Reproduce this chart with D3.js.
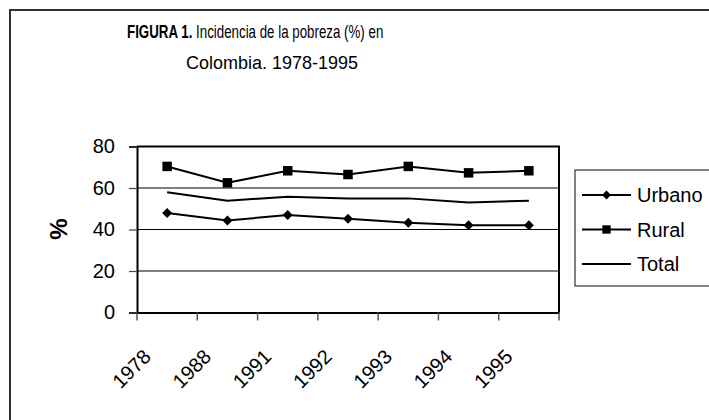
<!DOCTYPE html>
<html>
<head>
<meta charset="utf-8">
<script src="https://cdn.jsdelivr.net/npm/d3@7"></script>
<style>
  html, body { margin: 0; padding: 0; background: #fff; }
  svg { display: block; font-family: "Liberation Sans", Arial, sans-serif; }
</style>
</head>
<body>
<svg id="chart" width="709" height="420"></svg>
<script>
const categories = ["1978", "1988", "1991", "1992", "1993", "1994", "1995"];
const urbano = [48, 44.3, 47, 45.2, 43.3, 42.1, 42.1];
const rural  = [70.4, 62.5, 68.3, 66.5, 70.4, 67.3, 68.3];
const total  = [57.9, 53.9, 55.8, 55, 55, 53, 53.9];
const yTicks = [0, 20, 40, 60, 80];
const seriesNames = ["Urbano", "Rural", "Total"];

(function () {
const svg = d3.select("#chart");

// outer chart border (extends beyond the visible page)
svg.append("rect").attr("x", 10).attr("y", 10).attr("width", 730).attr("height", 440)
  .attr("fill", "#fff").attr("stroke", "#333").attr("stroke-width", 2);

// title
const title = svg.append("g").attr("fill", "#000");
const t1 = title.append("text").attr("transform", "translate(127,38) scale(0.74,1)")
  .attr("font-size", 18);
t1.append("tspan").attr("font-weight", "bold").text("FIGURA 1.");
t1.append("tspan").text(" Incidencia de la pobreza (%) en");
title.append("text").attr("x", 272).attr("y", 68.5).attr("text-anchor", "middle")
  .attr("font-size", 18).text("Colombia. 1978-1995");

const pL = 137, pR = 559, pT = 146.5, pB = 312.5;
const x = d3.scaleBand().domain(categories).range([pL, pR]).padding(0);
const y = d3.scaleLinear().domain([0, 80]).range([pB, pT]);

// gridlines
svg.append("g").selectAll("line").data(yTicks.filter(d => d > 0 && d < 80)).join("line")
  .attr("x1", pL).attr("x2", pR).attr("y1", d => y(d)).attr("y2", d => y(d))
  .attr("stroke", "#000").attr("stroke-width", 1);

// plot frame (top, right)
svg.append("path")
  .attr("d", `M${pL},${pT}H${pR}V${pB}`)
  .attr("fill", "none").attr("stroke", "#000").attr("stroke-width", 2);

// y axis
const yAxis = svg.append("g").attr("transform", `translate(${pL},0)`)
  .call(d3.axisLeft(y).tickValues(yTicks).tickSize(8).tickPadding(14).tickFormat(d3.format("d")));
yAxis.select(".domain").attr("stroke", "#000").attr("stroke-width", 2);
yAxis.selectAll(".tick line").attr("stroke", "#444").attr("stroke-width", 1.2);
yAxis.selectAll(".tick text").attr("font-size", 20).attr("fill", "#000")
  .attr("font-family", "Liberation Sans, Arial, sans-serif");

// x axis
const xAxis = svg.append("g").attr("transform", `translate(0,${pB})`)
  .call(d3.axisBottom(x).tickSize(0).tickFormat(""));
xAxis.select(".domain").attr("stroke", "#000").attr("stroke-width", 2);
const boundaries = categories.map(c => x(c)).concat([pR]);
svg.append("g").selectAll("line").data(boundaries).join("line")
  .attr("x1", d => d).attr("x2", d => d).attr("y1", pB).attr("y2", pB + 8)
  .attr("stroke", "#555").attr("stroke-width", 1.5);
svg.append("g").selectAll("text").data(categories).join("text")
  .attr("transform", d => `translate(${x(d) + x.bandwidth() / 2 - 15},358) rotate(-45)`)
  .attr("text-anchor", "end").attr("font-size", 20).attr("fill", "#000").text(d => d);

// y title
svg.append("text").attr("transform", "translate(67,229) rotate(-90)")
  .attr("text-anchor", "middle").attr("font-size", 24).attr("font-weight", "bold")
  .attr("fill", "#000").text("%");

const cx = d => x(d) + x.bandwidth() / 2;
const line = d3.line().x((v, i) => cx(categories[i])).y(v => y(v));

[[total, null], [urbano, "diamond"], [rural, "square"]].forEach(([vals, m]) => {
  svg.append("path").attr("d", line(vals)).attr("fill", "none")
    .attr("stroke", "#000").attr("stroke-width", 2);
  if (m) {
    svg.append("g").selectAll("path").data(vals).join("path")
      .attr("d", d3.symbol().type(d3.symbolSquare).size(m === "diamond" ? 50 : 90)())
      .attr("transform", (v, i) => `translate(${cx(categories[i])},${y(v)})` + (m === "diamond" ? " rotate(45)" : ""))
      .attr("fill", "#000");
  }
});

// legend
const lg = svg.append("g");
lg.append("rect").attr("x", 575).attr("y", 170).attr("width", 160).attr("height", 116)
  .attr("fill", "#fff").attr("stroke", "#333").attr("stroke-width", 1.2);
const rowsY = [195, 229.5, 264];
seriesNames.forEach((name, i) => {
  const yy = rowsY[i];
  lg.append("line").attr("x1", 582).attr("x2", 631).attr("y1", yy).attr("y2", yy)
    .attr("stroke", "#000").attr("stroke-width", 2);
  if (i === 0) {
    lg.append("path").attr("d", d3.symbol().type(d3.symbolSquare).size(40)())
      .attr("transform", `translate(606.5,${yy}) rotate(45)`).attr("fill", "#000");
  } else if (i === 1) {
    lg.append("path").attr("d", d3.symbol().type(d3.symbolSquare).size(70)())
      .attr("transform", `translate(606.5,${yy})`).attr("fill", "#000");
  }
  lg.append("text").attr("x", 637).attr("y", yy + 7).attr("font-size", 20)
    .attr("fill", "#000").text(name);
});
})();
</script>
</body>
</html>
